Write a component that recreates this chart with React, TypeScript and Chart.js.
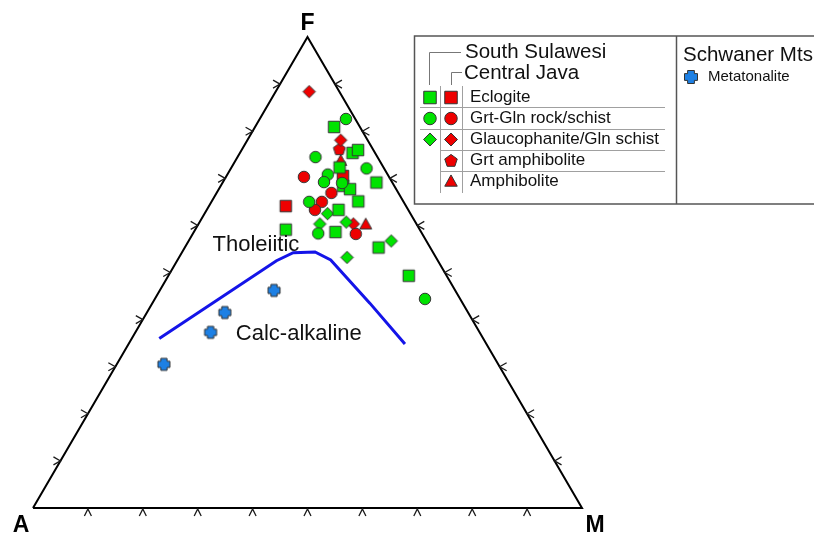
import React, { useEffect, useRef } from 'react';
import { Chart, registerables } from 'chart.js';

Chart.register(...registerables);

// Ternary compositions [A, F, M] in percent
const ssEclogite = [
  [4.7, 80.9, 14.4], [4.1, 75.4, 20.5], [2.8, 76.0, 21.2], [8.0, 72.3, 19.7],
  [9.3, 68.4, 22.3], [8.4, 67.7, 23.9], [2.9, 69.1, 28.0], [8.2, 65.1, 26.7],
  [12.7, 63.3, 24.0], [24.4, 59.1, 16.5], [15.6, 58.6, 25.8], [9.4, 55.3, 35.3],
  [6.9, 49.3, 43.8],
];
const ssGrtGln = [
  [1.7, 82.6, 15.7], [11.3, 74.5, 14.2], [3.2, 72.1, 24.7], [10.9, 70.8, 18.3],
  [12.4, 69.2, 18.4], [9.2, 69.0, 21.8], [17.2, 65.0, 17.8], [18.9, 58.3, 22.8],
  [6.4, 44.4, 49.2],
];
const ssGlauco = [
  [15.1, 62.5, 22.4], [17.6, 60.3, 22.1], [12.6, 60.7, 26.7], [6.4, 56.7, 36.9],
  [16.2, 53.2, 30.6],
];
const cjEclogite = [[21.9, 64.1, 14.0], [8.3, 70.5, 21.2]];
const cjGrtGln = [
  [15.5, 70.3, 14.2], [12.2, 66.9, 20.9], [14.9, 65.0, 20.1], [17.0, 63.3, 19.7],
  [12.1, 58.2, 29.7],
];
const cjGlauco = [[5.5, 88.4, 6.1], [4.9, 78.1, 17.0], [11.5, 60.3, 28.2]];
const cjGrtAmph = [[6.1, 76.2, 17.7]];
const cjAmph = [[9.3, 60.2, 30.5], [7.1, 73.7, 19.2]];
const smMetatonalite = [[33.0, 46.2, 20.8], [44.3, 41.5, 14.2], [49.0, 37.3, 13.7], [60.9, 30.5, 8.6]];
const boundaryLine = [
  [59.0, 36.0, 5.0], [29.4, 52.5, 18.1], [25.5, 54.2, 20.3], [21.45, 54.35, 24.2],
  [19.45, 52.65, 27.9], [16.9, 43.5, 39.6], [14.85, 34.8, 50.35],
];
const triangleOutline = [[100, 0, 0], [0, 0, 100], [0, 100, 0], [100, 0, 0]];
const tickValues = [10, 20, 30, 40, 50, 60, 70, 80, 90];
const fieldLabels = [
  { text: 'Tholeiitic', at: [40.0, 54.6, 5.4] },
  { text: 'Calc-alkaline', at: [45.2, 35.7, 19.1] },
];
const legendItems = ['Eclogite', 'Grt-Gln rock/schist', 'Glaucophanite/Gln schist', 'Grt amphibolite', 'Amphibolite'];

const GREEN = '#00e300';
const RED = '#ee0000';
const BLUE = '#1d80e4';
const EDGE = '#333333';
const FONT = "'Liberation Sans', Arial, sans-serif";

function toXY(p: number[]) {
  const t = p[0] + p[1] + p[2];
  const F = (p[1] / t) * 100;
  const M = (p[2] / t) * 100;
  return { x: M + F / 2, y: F };
}

function shapePath(ctx: CanvasRenderingContext2D, shape: string, x: number, y: number, s: number) {
  const h = s / 2;
  ctx.beginPath();
  switch (shape) {
    case 'square':
      ctx.rect(x - h, y - h, s, s);
      break;
    case 'circle':
      ctx.arc(x, y, h, 0, Math.PI * 2);
      break;
    case 'diamond':
      ctx.moveTo(x, y - h); ctx.lineTo(x + h, y); ctx.lineTo(x, y + h); ctx.lineTo(x - h, y);
      ctx.closePath();
      break;
    case 'triangle':
      ctx.moveTo(x, y - h * 1.05); ctx.lineTo(x + h, y + h * 0.75); ctx.lineTo(x - h, y + h * 0.75);
      ctx.closePath();
      break;
    case 'pentagon':
      for (let i = 0; i < 5; i++) {
        const a = -Math.PI / 2 + (i * 2 * Math.PI) / 5;
        const px = x + Math.cos(a) * h * 1.05;
        const py = y + 0.5 + Math.sin(a) * h * 1.05;
        if (i === 0) ctx.moveTo(px, py); else ctx.lineTo(px, py);
      }
      ctx.closePath();
      break;
    case 'cross': {
      const a = s * 0.26;
      ctx.moveTo(x - a, y - h); ctx.lineTo(x + a, y - h); ctx.lineTo(x + a, y - a);
      ctx.lineTo(x + h, y - a); ctx.lineTo(x + h, y + a); ctx.lineTo(x + a, y + a);
      ctx.lineTo(x + a, y + h); ctx.lineTo(x - a, y + h); ctx.lineTo(x - a, y + a);
      ctx.lineTo(x - h, y + a); ctx.lineTo(x - h, y - a); ctx.lineTo(x - a, y - a);
      ctx.closePath();
      break;
    }
  }
}

function drawMarker(ctx: CanvasRenderingContext2D, shape: string, x: number, y: number, s: number, fill: string) {
  ctx.save();
  shapePath(ctx, shape, x, y, s);
  ctx.fillStyle = fill;
  ctx.fill();
  ctx.lineWidth = 1;
  ctx.lineJoin = shape === 'cross' ? 'round' : 'miter';
  ctx.strokeStyle = EDGE;
  ctx.stroke();
  ctx.restore();
}

function markerCanvas(shape: string, s: number, fill: string) {
  const size = Math.ceil(s) + 4;
  const c = document.createElement('canvas');
  c.width = size;
  c.height = size;
  const ctx = c.getContext('2d')!;
  drawMarker(ctx, shape, size / 2, size / 2, s, fill);
  return c;
}

// scale limits chosen so the triangle sits where it does in the figure
const X_MIN = -6.011;
const X_MAX = 142.26;
const Y_MIN = -6.37;
const Y_MAX = 107.86;

const overlay = {
  id: 'ternaryOverlay',
  afterDatasetsDraw(chart: any) {
    const ctx: CanvasRenderingContext2D = chart.ctx;
    const xs = chart.scales.x;
    const ys = chart.scales.y;
    const px = (p: { x: number; y: number }) => [xs.getPixelForValue(p.x), ys.getPixelForValue(p.y)];

    ctx.save();
    // ticks
    ctx.strokeStyle = '#1a1a1a';
    ctx.lineWidth = 1.3;
    tickValues.forEach((v) => {
      const [lx, ly] = px({ x: v / 2, y: v });
      ctx.beginPath();
      ctx.moveTo(lx - 7, ly - 4); ctx.lineTo(lx, ly); ctx.lineTo(lx - 7, ly + 4);
      ctx.stroke();
      const [rx, ry] = px({ x: 100 - v / 2, y: v });
      ctx.beginPath();
      ctx.moveTo(rx + 7, ry - 4); ctx.lineTo(rx, ry); ctx.lineTo(rx + 7, ry + 4);
      ctx.stroke();
      const [bx, by] = px({ x: v, y: 0 });
      ctx.beginPath();
      ctx.moveTo(bx - 3.5, by + 8); ctx.lineTo(bx, by + 1); ctx.lineTo(bx + 3.5, by + 8);
      ctx.stroke();
    });

    // vertex labels
    ctx.fillStyle = '#000';
    ctx.font = `bold 23px ${FONT}`;
    ctx.textAlign = 'center';
    ctx.textBaseline = 'middle';
    const [fx, fy] = px(toXY([0, 100, 0]));
    ctx.fillText('F', fx, fy - 13);
    const [ax, ay] = px(toXY([100, 0, 0]));
    ctx.fillText('A', ax - 12, ay + 18);
    const [mx, my] = px(toXY([0, 0, 100]));
    ctx.fillText('M', mx + 13, my + 18);

    // field labels
    ctx.font = `22px ${FONT}`;
    ctx.textAlign = 'left';
    ctx.textBaseline = 'alphabetic';
    ctx.fillStyle = '#111';
    fieldLabels.forEach((l) => {
      const [tx, ty] = px(toXY(l.at));
      ctx.fillText(l.text, tx, ty);
    });

    // legend box
    ctx.strokeStyle = '#555';
    ctx.lineWidth = 1.5;
    ctx.strokeRect(414.5, 36, 420, 168);
    ctx.beginPath();
    ctx.moveTo(676.5, 36); ctx.lineTo(676.5, 204);
    ctx.stroke();

    ctx.strokeStyle = '#a0a0a0';
    ctx.lineWidth = 1;
    ctx.beginPath();
    ctx.moveTo(420, 107.5); ctx.lineTo(665, 107.5);
    ctx.moveTo(420, 129.5); ctx.lineTo(665, 129.5);
    ctx.moveTo(441, 150.5); ctx.lineTo(665, 150.5);
    ctx.moveTo(441, 171.5); ctx.lineTo(665, 171.5);
    ctx.moveTo(440.5, 86); ctx.lineTo(440.5, 193);
    ctx.moveTo(462.5, 86); ctx.lineTo(462.5, 193);
    ctx.stroke();
    ctx.strokeStyle = '#777';
    ctx.beginPath();
    ctx.moveTo(429.5, 85); ctx.lineTo(429.5, 52.5); ctx.lineTo(461, 52.5);
    ctx.moveTo(451.5, 85); ctx.lineTo(451.5, 72.5); ctx.lineTo(462, 72.5);
    ctx.stroke();

    ctx.fillStyle = '#111';
    ctx.textBaseline = 'middle';
    ctx.font = `20.5px ${FONT}`;
    ctx.fillText('South Sulawesi', 465, 52);
    ctx.fillText('Central Java', 464, 73);
    ctx.fillText('Schwaner Mts', 683, 55);
    ctx.font = `17px ${FONT}`;
    const rowY = [97.5, 118.5, 139.5, 160.5, 181.5];
    legendItems.forEach((t, i) => ctx.fillText(t, 470, rowY[i]));
    ctx.font = `15px ${FONT}`;
    ctx.fillText('Metatonalite', 708, 77);

    drawMarker(ctx, 'square', 430, rowY[0], 12.5, GREEN);
    drawMarker(ctx, 'square', 451, rowY[0], 12.5, RED);
    drawMarker(ctx, 'circle', 430, rowY[1], 12.5, GREEN);
    drawMarker(ctx, 'circle', 451, rowY[1], 12.5, RED);
    drawMarker(ctx, 'diamond', 430, rowY[2], 13, GREEN);
    drawMarker(ctx, 'diamond', 451, rowY[2], 13, RED);
    drawMarker(ctx, 'pentagon', 451, rowY[3], 12.5, RED);
    drawMarker(ctx, 'triangle', 451, rowY[4], 12.5, RED);
    drawMarker(ctx, 'cross', 691, 77, 13, BLUE);
    ctx.restore();
  },
};

function pointSet(label: string, pts: number[][], shape: string, fill: string, size: number) {
  return {
    label,
    data: pts.map(toXY),
    pointStyle: markerCanvas(shape, size, fill),
    pointRadius: size / 2,
    showLine: false,
    backgroundColor: fill,
    borderColor: EDGE,
  };
}

export default function App() {
  const ref = useRef<HTMLCanvasElement>(null);
  useEffect(() => {
    const canvas = ref.current!;
    const chart = new Chart(canvas, {
      type: 'scatter',
      data: {
        datasets: [
          pointSet('SS Grt-Gln rock/schist', ssGrtGln, 'circle', GREEN, 11.5),
          pointSet('SS Eclogite', ssEclogite, 'square', GREEN, 11.5),
          pointSet('SS Glaucophanite/Gln schist', ssGlauco, 'diamond', GREEN, 12.5),
          pointSet('CJ Eclogite', cjEclogite, 'square', RED, 11.5),
          pointSet('CJ Grt-Gln rock/schist', cjGrtGln, 'circle', RED, 11.5),
          pointSet('CJ Glaucophanite/Gln schist', cjGlauco, 'diamond', RED, 12.5),
          pointSet('CJ Grt amphibolite', cjGrtAmph, 'pentagon', RED, 12),
          pointSet('CJ Amphibolite', cjAmph, 'triangle', RED, 12),
          pointSet('Metatonalite', smMetatonalite, 'cross', BLUE, 12),
          {
            label: 'Tholeiitic / Calc-alkaline',
            data: boundaryLine.map(toXY),
            showLine: true,
            pointRadius: 0,
            borderColor: '#1414e8',
            borderWidth: 3,
            tension: 0,
            fill: false,
          } as any,
          {
            label: 'AFM',
            data: triangleOutline.map(toXY),
            showLine: true,
            pointRadius: 0,
            borderColor: '#000',
            borderWidth: 2,
            tension: 0,
            fill: false,
            borderJoinStyle: 'miter',
          } as any,
        ],
      },
      options: {
        animation: false,
        responsive: false,
        maintainAspectRatio: false,
        events: [],
        layout: { padding: 0, autoPadding: false },
        plugins: { legend: { display: false }, tooltip: { enabled: false } },
        scales: {
          x: { type: 'linear', display: false, min: X_MIN, max: X_MAX },
          y: { type: 'linear', display: false, min: Y_MIN, max: Y_MAX },
        },
      },
      plugins: [overlay],
    } as any);
    return () => chart.destroy();
  }, []);
  return (
    <div style={{ position: 'fixed', left: 0, top: 0, width: 814, height: 538, background: '#fff' }}>
      <canvas ref={ref} width={814} height={538} style={{ display: 'block', width: 814, height: 538 }} />
    </div>
  );
}
